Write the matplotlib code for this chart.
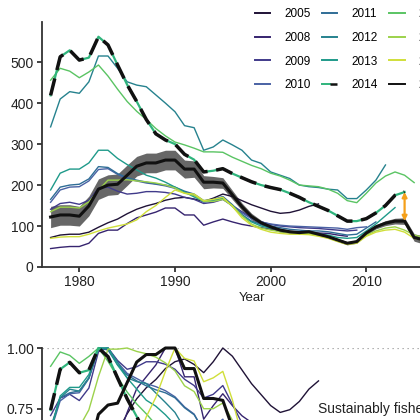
import numpy as np
import matplotlib.pyplot as plt
from matplotlib.lines import Line2D
from matplotlib.legend_handler import HandlerTuple

plt.rcParams['font.family'] = ['Liberation Sans', 'DejaVu Sans']

first_year = 1977

# biomass estimates of each assessment, from 1977 to the assessment year
b2005 = [72, 78, 80, 80, 85, 97, 108, 117, 130, 141, 149, 155, 163, 168, 170, 166, 160, 168, 178, 172,
         162, 152, 144, 136, 131, 133, 139, 148, 154]
b2008 = [45, 48, 50, 50, 58, 82, 90, 90, 106, 120, 127, 134, 144, 144, 127, 127, 102, 110, 117, 110,
         104, 100, 96, 92, 88, 86, 85, 84, 83, 82, 78, 75]
b2009 = [141, 155, 158, 153, 163, 192, 195, 185, 178, 180, 184, 184, 182, 178, 170, 165, 155, 158, 165, 150,
         135, 120, 110, 104, 100, 98, 96, 95, 94, 92, 90, 88, 90]
b2010 = [158, 188, 195, 196, 210, 238, 240, 226, 215, 210, 205, 202, 198, 192, 182, 175, 158, 162, 170, 150,
         132, 118, 110, 105, 102, 100, 99, 98, 97, 96, 95, 92, 96, 98]
b2011 = [165, 195, 200, 202, 215, 245, 243, 228, 218, 212, 207, 203, 200, 195, 185, 178, 162, 165, 172, 152,
         128, 112, 104, 100, 96, 92, 90, 88, 88, 86, 82, 78, 80, 95, 110]
b2012 = [342, 410, 428, 424, 452, 515, 515, 485, 452, 444, 440, 420, 400, 379, 345, 340, 285, 293, 310, 298,
         285, 261, 253, 232, 224, 216, 200, 196, 194, 190, 188, 167, 167, 188, 212, 249]
b2013 = [188, 229, 239, 239, 254, 285, 285, 265, 250, 237, 224, 217, 207, 195, 183, 171, 160, 162, 168, 148,
         125, 110, 100, 95, 90, 86, 84, 82, 80, 78, 72, 70, 72, 88, 105, 125, 145]
b2014 = [419, 513, 529, 505, 511, 562, 542, 493, 445, 404, 360, 325, 310, 300, 275, 262, 232, 235, 240, 228,
         218, 208, 200, 194, 189, 180, 170, 158, 148, 138, 125, 112, 112, 118, 132, 150, 175, 183]
b2015 = [456, 485, 478, 462, 476, 493, 466, 434, 404, 380, 360, 338, 320, 305, 298, 290, 281, 281, 280, 268,
         258, 248, 240, 229, 222, 212, 200, 198, 196, 190, 180, 162, 157, 180, 205, 222, 232, 224, 206]
b2016 = [135, 146, 146, 144, 159, 188, 212, 212, 213, 210, 208, 205, 200, 193, 180, 175, 160, 160, 165, 150,
         125, 105, 95, 90, 86, 84, 83, 82, 78, 72, 65, 57, 60, 78, 88, 95, 98, 90, 78, 72]
b2017 = [70, 73, 74, 74, 80, 88, 95, 100, 105, 115, 135, 150, 170, 188, 180, 178, 162, 165, 170, 148,
         120, 102, 92, 85, 82, 80, 80, 79, 75, 70, 62, 55, 58, 75, 85, 90, 92, 85, 70, 65, 68]
b_final = [122, 127, 127, 124, 149, 190, 200, 202, 224, 246, 254, 254, 261, 261, 239, 239, 207, 207, 205, 176,
           147, 123, 108, 98, 90, 86, 84, 86, 80, 74, 66, 58, 62, 83, 98, 107, 112, 112, 72, 66, 70, 76]
# half width of the uncertainty band of the final assessment
band_half = [26, 25, 25, 24, 24, 25, 25, 25, 25, 24, 24, 24, 24, 24, 22, 20, 16, 14, 13, 11,
             9, 8, 6, 5, 5, 4, 4, 4, 4, 4, 4, 4, 4, 5, 5, 6, 7, 8, 9, 10, 12, 14]

retro = [b2005, b2008, b2009, b2010, b2011, b2012, b2013, b2014, b2015, b2016, b2017]
retro_labels = ['2005', '2008', '2009', '2010', '2011', '2012', '2013', '2014', '2015', '2016', '2017']
final_label = '2018'
highlight = '2014'

colors = ['#1f1236', '#36246f', '#403a8a', '#4a62a4', '#2f6d96', '#26828e', '#1f9a8a',
          '#2fb47c', '#5ac463', '#9cd24b', '#d0df3a']
dark = '#333333'

fig = plt.figure(figsize=(4.2, 4.2), dpi=100)


def px_axes(x0, y_top, x1, y_bot):
    return fig.add_axes([x0 / 420, 1 - y_bot / 420, (x1 - x0) / 420, (y_bot - y_top) / 420])


def style(ax):
    for s in ['top', 'right']:
        ax.spines[s].set_visible(False)
    for s in ['left', 'bottom']:
        ax.spines[s].set_color(dark)
        ax.spines[s].set_linewidth(1.3)
    ax.tick_params(length=3.5, width=1.3, color=dark, labelsize=10, labelcolor='#222222', pad=2.5)


ax1 = px_axes(42, 22, 462, 267)
ax2 = px_axes(42, 348, 462, 592)

final_years = np.arange(first_year, first_year + len(b_final))
fv = np.array(b_final)
bh = np.array(band_half)
ax1.fill_between(final_years, fv - bh, fv + bh, color='#676767', lw=0, zorder=1)

handles = []
for vals, lab, col in zip(retro, retro_labels, colors):
    yrs = np.arange(first_year, first_year + len(vals))
    v = np.array(vals, dtype=float)
    rel = v / v.max()
    if lab == highlight:
        ax1.plot(yrs, v, color=col, lw=1.6, zorder=3)
        ax1.plot(yrs, v, color='#111111', lw=2.5, dashes=(5, 2.5), zorder=4)
        ax2.plot(yrs, rel, color=col, lw=1.6, zorder=3, clip_on=False)
        ax2.plot(yrs, rel, color='#111111', lw=2.5, dashes=(5, 2.5), zorder=4, clip_on=False)
        handles.append((Line2D([], [], color=col, lw=1.4),
                        Line2D([], [], color='#111111', lw=1.8, dashes=(3, 3))))
    else:
        ax1.plot(yrs, v, color=col, lw=1.0, zorder=2)
        ax2.plot(yrs, rel, color=col, lw=1.0, zorder=2, clip_on=False)
        handles.append(Line2D([], [], color=col, lw=1.4))

ax1.plot(final_years, fv, color='#111111', lw=2.2, zorder=5)
ax2.plot(final_years, fv / fv.max(), color='#111111', lw=2.2, zorder=5, clip_on=False)
handles.append(Line2D([], [], color='#111111', lw=1.4))

# retrospective difference in the highlighted terminal year
hi = retro[retro_labels.index(highlight)]
hy = first_year + len(hi) - 1
ax1.annotate('', xy=(hy, hi[-1]), xytext=(hy, b_final[hy - first_year]),
             arrowprops=dict(arrowstyle='<|-|>', color='#f5a01a', lw=1.6,
                             mutation_scale=7, shrinkA=0, shrinkB=0), zorder=6)

for ax in (ax1, ax2):
    style(ax)
    ax.set_xlim(1976.1, 2019.3)
    ax.set_xticks([1980, 1990, 2000, 2010, 2020])

ax1.set_ylim(0, 598)
ax1.set_yticks([0, 100, 200, 300, 400, 500])
ax1.set_xlabel('Year', fontsize=9.5, color='#222222', labelpad=2)

ax2.set_ylim(0, 1.0)
ax2.set_yticks([0, 0.25, 0.5, 0.75, 1.0])
ax2.set_yticklabels(['0.00', '0.25', '0.50', '0.75', '1.00'])
ax2.axhline(1.0, color='#9a9a9a', lw=0.9, ls=(0, (1, 3)), zorder=0)
ax2.text(2005.0, 0.75, 'Sustainably fished', ha='left', va='center', fontsize=10, color='#222222')

fig.legend(handles, retro_labels + [final_label], ncol=3, loc='upper left',
           bbox_to_anchor=(255 / 420, 1 - 8 / 420), frameon=False, fontsize=8.5,
           handlelength=1.3, handletextpad=1.2, columnspacing=0.95, labelspacing=1.0,
           borderpad=0, borderaxespad=0, handler_map={tuple: HandlerTuple(ndivide=None)})

fig.savefig('out.png', dpi=100)
